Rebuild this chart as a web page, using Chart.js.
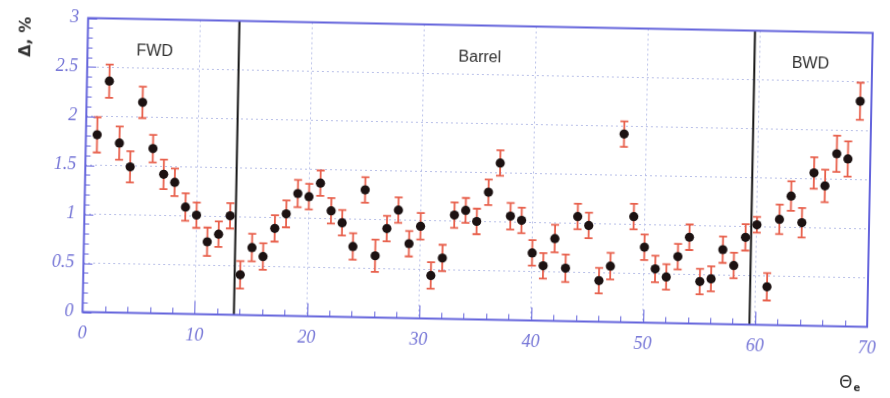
<!DOCTYPE html>
<html>
<head>
<meta charset="utf-8">
<script src="https://cdn.jsdelivr.net/npm/chart.js@4/dist/chart.umd.min.js"></script>
<style>
  html, body { margin: 0; padding: 0; background: #ffffff; overflow: hidden; }
  #wrap { position: absolute; left: 0; top: 0; width: 890px; height: 398px;
          transform: rotate(1.09deg); transform-origin: 480px 172.5px; }
  canvas { display: block; background: #ffffff; }
</style>
</head>
<body>
<div id="wrap"><canvas id="c" width="890" height="398"></canvas></div>
<script>
// ---- data ----
const theta = [1,2,3,4,5,6,7,8,9,10,11,12,13,14,15,16,17,18,19,20,21,22,23,24,25,26,27,28,29,30,
               31,32,33,34,35,36,37,38,39,40,41,42,43,44,45,46,47,48,49,50,51,52,53,54,55,56,57,58,59,60,
               61,62,63,64,65,66,67,68,69];
const delta = [1.81,2.36,1.73,1.49,2.15,1.68,1.42,1.34,1.09,1.01,0.74,0.82,1.01,0.41,0.69,0.60,0.89,1.04,1.25,1.22,
               1.36,1.08,0.96,0.72,1.30,0.63,0.91,1.10,0.76,0.94,0.44,0.62,1.06,1.11,1.00,1.30,1.60,1.06,1.02,0.69,
               0.56,0.84,0.54,1.07,0.98,0.42,0.57,1.92,1.08,0.77,0.55,0.47,0.68,0.88,0.43,0.46,0.76,0.60,0.89,1.02,
               0.39,1.08,1.32,1.05,1.56,1.43,1.76,1.71,2.30];
const errs  = [0.18,0.17,0.17,0.16,0.16,0.14,0.15,0.14,0.14,0.13,0.145,0.13,0.13,0.14,0.14,0.135,0.135,0.137,0.14,0.13,
               0.13,0.13,0.13,0.135,0.13,0.165,0.13,0.13,0.13,0.135,0.135,0.135,0.13,0.127,0.13,0.13,0.13,0.135,0.13,0.13,
               0.13,0.14,0.14,0.13,0.13,0.13,0.135,0.13,0.13,0.13,0.135,0.13,0.13,0.13,0.13,0.127,0.135,0.13,0.135,0.08,
               0.14,0.15,0.15,0.15,0.16,0.165,0.185,0.18,0.19];
const boundaries   = [13.5, 59.5];
const regionNames  = ['FWD', 'Barrel', 'BWD'];
const regionCenters = [6, 35, 64.5];
const regionLevel  = 2.67;
const xTickValues  = [0, 10, 20, 30, 40, 50, 60, 70];
const yTickValues  = [0, 0.5, 1, 1.5, 2, 2.5, 3];
const yTickLabels  = ['0', '0.5', '1', '1.5', '2', '2.5', '3'];
const yTitle = 'Δ, %';
const xTitle = 'Θ';
const xTitleSub = 'e';

// ---- styles ----
const FRAME = '#6464dc';
const TICKTXT = '#7474d6';
const GRID = '#b9c0e8';
const ERR = '#e8604c';
const PT = '#1c1212';

const points = theta.map((t, i) => ({ x: t, y: delta[i] }));

const decor = {
  id: 'decor',
  beforeDatasetsDraw(chart) {
    const { ctx, chartArea: a, scales: { x, y } } = chart;
    ctx.save();
    // boundary lines
    ctx.strokeStyle = '#151515';
    ctx.lineWidth = 2;
    boundaries.forEach(b => {
      const px = x.getPixelForValue(b);
      ctx.beginPath(); ctx.moveTo(px, a.top); ctx.lineTo(px, a.bottom); ctx.stroke();
    });
    // error bars
    ctx.strokeStyle = ERR;
    ctx.lineWidth = 1.8;
    theta.forEach((t, i) => {
      const px = x.getPixelForValue(t);
      const hi = y.getPixelForValue(delta[i] + errs[i]);
      const lo = y.getPixelForValue(delta[i] - errs[i]);
      ctx.beginPath();
      ctx.moveTo(px, hi); ctx.lineTo(px, lo);
      ctx.moveTo(px - 4, hi); ctx.lineTo(px + 4, hi);
      ctx.moveTo(px - 4, lo); ctx.lineTo(px + 4, lo);
      ctx.stroke();
    });
    // region names
    ctx.fillStyle = '#303030';
    ctx.font = '16px "Liberation Sans", Arial, sans-serif';
    ctx.textAlign = 'center';
    ctx.textBaseline = 'middle';
    regionNames.forEach((n, i) => {
      ctx.fillText(n, x.getPixelForValue(regionCenters[i]), y.getPixelForValue(regionLevel));
    });
    ctx.restore();
  },
  afterDraw(chart) {
    const { ctx, chartArea: a, scales: { x, y } } = chart;
    ctx.save();
    // inward ticks
    ctx.strokeStyle = FRAME;
    ctx.lineWidth = 1;
    for (let v = 0; v <= 70; v += 2) {
      const px = Math.round(x.getPixelForValue(v)) + 0.5;
      const len = (v % 10 === 0) ? 13 : 6;
      ctx.beginPath(); ctx.moveTo(px, a.bottom); ctx.lineTo(px, a.bottom - len); ctx.stroke();
    }
    for (let k = 0; k <= 30; k++) {
      const py = Math.round(y.getPixelForValue(k / 10)) + 0.5;
      const len = (k % 5 === 0) ? 9 : 5;
      ctx.beginPath(); ctx.moveTo(a.left, py); ctx.lineTo(a.left + len, py); ctx.stroke();
    }
    // frame
    ctx.lineWidth = 2;
    ctx.strokeRect(a.left, a.top, a.right - a.left, a.bottom - a.top);
    // x title
    ctx.fillStyle = '#333333';
    ctx.textBaseline = 'alphabetic';
    ctx.textAlign = 'left';
    ctx.font = '17px "DejaVu Sans", sans-serif';
    const tx = a.right - 27, ty = 381;
    ctx.fillText(xTitle, tx, ty);
    const w = ctx.measureText(xTitle).width;
    ctx.font = 'bold 10px "DejaVu Sans", sans-serif';
    ctx.fillText(xTitleSub, tx + w + 1, ty + 3);
    ctx.restore();
  }
};

new Chart(document.getElementById('c'), {
  type: 'scatter',
  data: {
    datasets: [{
      data: points,
      backgroundColor: PT,
      borderColor: PT,
      pointRadius: 4.6,
      pointBorderWidth: 0,
      showLine: false
    }]
  },
  options: {
    responsive: false,
    devicePixelRatio: 1,
    animation: false,
    layout: { padding: { left: 0, right: 15.3, top: 25.5, bottom: 0 } },
    plugins: { legend: { display: false }, tooltip: { enabled: false } },
    scales: {
      x: {
        type: 'linear', min: 0, max: 70,
        afterBuildTicks: s => { s.ticks = xTickValues.map(v => ({ value: v })); },
        afterFit: s => { s.height = 78.5; },
        grid: { color: GRID, lineWidth: 1, drawTicks: false, tickLength: 0 },
        border: { display: false, dash: [2, 3] },
        ticks: {
          color: TICKTXT, padding: 11,
          font: { family: '"Liberation Serif", "DejaVu Serif", serif', style: 'italic', size: 18 },
          callback: v => String(v)
        }
      },
      y: {
        type: 'linear', min: 0, max: 3,
        afterBuildTicks: s => { s.ticks = yTickValues.map(v => ({ value: v })); },
        afterFit: s => { s.width = 85.3; },
        grid: { color: GRID, lineWidth: 1, drawTicks: false, tickLength: 0 },
        border: { display: false, dash: [2, 3] },
        title: {
          display: true, text: yTitle, align: 'end', color: '#333333',
          font: { family: '"DejaVu Sans", sans-serif', size: 16, weight: 'bold' },
          padding: { top: 14, bottom: 0 }
        },
        ticks: {
          color: TICKTXT, padding: 9,
          font: { family: '"Liberation Serif", "DejaVu Serif", serif', style: 'italic', size: 18 },
          callback: (v, i) => yTickLabels[yTickValues.indexOf(v)]
        }
      }
    }
  },
  plugins: [decor]
});
</script>
</body>
</html>
